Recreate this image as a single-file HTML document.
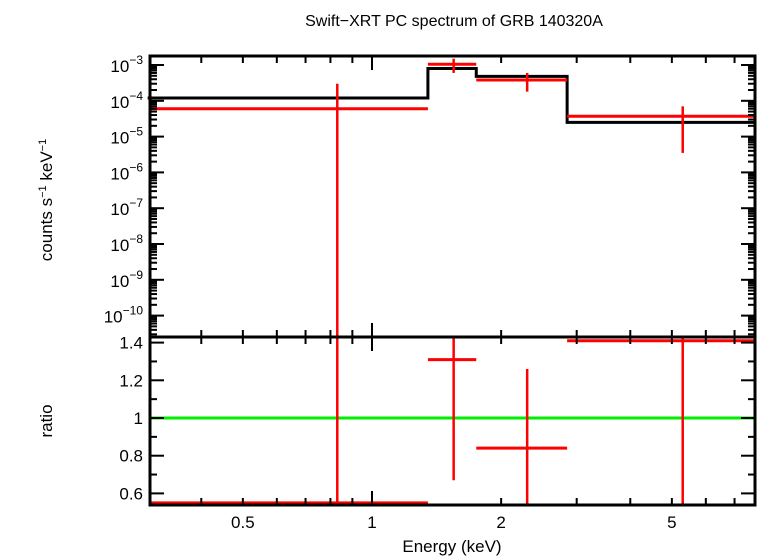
<!DOCTYPE html>
<html><head><meta charset="utf-8"><style>
body{margin:0;background:#fff}
svg{display:block;font-family:"Liberation Sans",sans-serif}
</style></head><body>
<svg id="c" width="758" height="556"></svg>
<script>
const binLo=[0.3,1.35,1.75,2.85];
const binHi=[1.35,1.75,2.85,7.8];
const binCenter=[0.83,1.55,2.3,5.3];
const modelVals=[1.2e-4,8e-4,4.8e-4,2.5e-5];
const dataVals=[6e-5,1.05e-3,3.8e-4,3.7e-5];
const dataErrLo=[1e-12,6e-4,1.8e-4,3.5e-6];
const dataErrHi=[3e-4,1.5e-3,6e-4,7e-5];
const ratioVals=[0.55,1.31,0.84,1.41];
const ratioLo=[0.3,0.67,0.42,0.5];
const ratioHi=[2,1.6,1.26,1.6];
const xTicks=[0.5,1,2,5];
const xTickLabels=["0.5","1","2","5"];
const yTopExp=[-3,-4,-5,-6,-7,-8,-9,-10];
const yBotTicks=[0.6,0.8,1,1.2,1.4];
const yBotLabels=["0.6","0.8","1","1.2","1.4"];

const L=150,R=755,T=56,M=337,B=505;
const X=v=>372+Math.log10(v)*429;
const YT=v=>65+(-3-Math.log10(v))*35.8;
const YB=v=>418-(v-1)*188.5;
const svg=document.getElementById('c');
const NS='http://www.w3.org/2000/svg';
function el(t,a,p){const e=document.createElementNS(NS,t);for(const k in a)e.setAttribute(k,a[k]);(p||svg).appendChild(e);return e;}
const cl=(v,a,b)=>Math.max(a,Math.min(b,v));
function line(x1,y1,x2,y2,c,w,name){const e=el('line',{x1,y1,x2,y2,stroke:c,'stroke-width':w});

return e;}
function text(x,y,s,size,anchor,name){const e=el('text',{x,y,'font-size':size,'text-anchor':anchor||'middle',fill:'#000'});e.textContent=s;

return e;}

text(454,26,"Swift\u2212XRT PC spectrum of GRB 140320A",16,'middle','chart-title');
text(452,552,"Energy (keV)",17,'middle','x-axis-title');
const yt=text(52,200,"counts s",17,'middle','y-axis-title-top');
yt.setAttribute('transform','rotate(-90 52 200)');
yt.innerHTML='counts s<tspan dy="-6" font-size="11">\u22121</tspan><tspan dy="6"> keV</tspan><tspan dy="-6" font-size="11">\u22121</tspan>';
const yb=text(52,421,"ratio",17,'middle','y-axis-title-bottom');
yb.setAttribute('transform','rotate(-90 52 421)');

let d='';
for(let i=0;i<binLo.length;i++){d+=(i?'L':'M')+X(binLo[i])+','+YT(modelVals[i])+'L'+X(binHi[i])+','+YT(modelVals[i]);}
const mp=el('path',{d,fill:'none',stroke:'#000','stroke-width':3});


for(let i=0;i<binLo.length;i++){
 line(cl(X(binLo[i]),L,R),YT(dataVals[i]),cl(X(binHi[i]),L,R),YT(dataVals[i]),'#f00',3,'data-bin-'+i);
 line(X(binCenter[i]),cl(YT(dataErrHi[i]),T,M),X(binCenter[i]),cl(YT(dataErrLo[i]),T,M),'#f00',2.5,'data-err-'+i);
}
line(L,YB(1),R,YB(1),'#0e0',3,'unity-line');
for(let i=0;i<binLo.length;i++){
 line(cl(X(binLo[i]),L,R),YB(ratioVals[i]),cl(X(binHi[i]),L,R),YB(ratioVals[i]),'#f00',3,'ratio-bin-'+i);
 line(X(binCenter[i]),cl(YB(ratioHi[i]),M,B),X(binCenter[i]),cl(YB(ratioLo[i]),M,B),'#f00',2.5,'ratio-err-'+i);
}
const f1=el('rect',{x:L,y:T,width:R-L,height:M-T,fill:'none',stroke:'#000','stroke-width':3});

const f2=el('rect',{x:L,y:M,width:R-L,height:B-M,fill:'none',stroke:'#000','stroke-width':3});

const minors=[0.4,0.5,0.6,0.7,0.8,0.9,1,2,3,4,5,6,7];
for(const v of minors){const x=X(v),len=v===1?14:7;
 for(const [y,s] of [[T,1],[M,-1],[M,1],[B,-1]]) line(x,y,x,y+s*len,'#000',2,'x-tick');}
xTicks.forEach((v,i)=>text(X(v),528,xTickLabels[i],17,'middle','x-tick-label'));
for(let e=-11;e<=-3;e++){for(let k=1;k<10;k++){const y=YT(k*Math.pow(10,e));if(y<T||y>M)continue;const len=k===1?14:7;
 line(L,y,L+len,y,'#000',2,'y-tick');line(R,y,R-len,y,'#000',2,'y-tick');}}
yTopExp.forEach(e=>{const t=text(L-7,YT(Math.pow(10,e))+7,'',17,'end','y-tick-label');t.innerHTML='10<tspan dy="-8" font-size="12">\u2212'+(-e)+'</tspan>';});
for(let v=0.6;v<=1.41;v+=0.1){const y=YB(v),len=Math.abs((v*10)%2)<0.01||Math.abs((v*10)%2-2)<0.01?14:7;
 line(L,y,L+len,y,'#000',2,'y-tick');line(R,y,R-len,y,'#000',2,'y-tick');}
yBotTicks.forEach((v,i)=>text(L-7,YB(v)+6,yBotLabels[i],17,'end','y-tick-label'));
</script>
</body></html>
